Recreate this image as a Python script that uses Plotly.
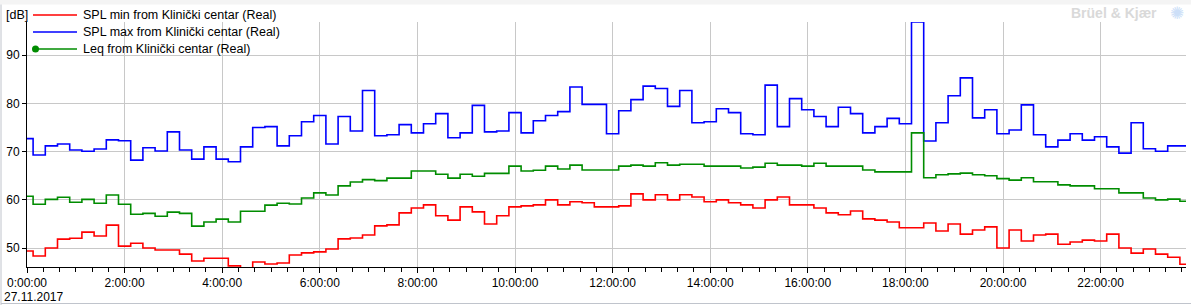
import pandas as pd
import plotly.graph_objects as go

times = pd.date_range("2017-11-27 00:00", periods=96, freq="15min")

spl_max = [
    72.7, 69.3, 71.2, 71.6, 70.35, 70.1, 70.55, 72.45, 72.25, 68.25,
    70.8, 70.15, 74.1, 70.35, 68.45, 71.0, 68.45, 67.9, 71.0, 75.0,
    75.2, 71.2, 73.3, 76.2, 77.5, 71.6, 77.3, 74.3, 82.7, 73.3,
    73.5, 75.6, 73.9, 75.8, 77.9, 72.9, 73.9, 79.6, 74.1, 74.3,
    78.1, 73.9, 76.4, 77.5, 78.3, 83.4, 79.8, 79.8, 73.7, 78.5,
    80.8, 83.6, 83.1, 79.4, 82.7, 76.0, 76.2, 78.9, 78.1, 73.7,
    73.5, 83.8, 75.2, 81.0, 78.7, 77.3, 75.2, 79.2, 77.9, 73.9,
    75.2, 76.9, 75.8, 96.9, 72.2, 76.0, 81.6, 85.3, 77.0, 78.7,
    73.7, 74.5, 79.7, 73.5, 71.0, 72.4, 73.7, 72.4, 73.1, 71.0,
    69.7, 76.0, 70.6, 70.1, 71.2, 71.2,
]

leq = [
    60.76, 59.1, 60.1, 60.55, 59.5, 60.1, 59.3, 61.0, 59.1, 57.0,
    57.2, 56.6, 57.45, 57.2, 54.55, 55.4, 56.0, 55.4, 57.65, 57.65,
    58.9, 59.3, 59.15, 60.4, 61.45, 61.0, 62.9, 63.7, 64.2, 64.0,
    64.5, 64.5, 66.0, 66.0, 65.3, 64.5, 65.3, 64.9, 65.5, 65.5,
    67.0, 66.0, 66.15, 67.0, 66.4, 67.2, 66.2, 66.2, 66.2, 67.0,
    67.2, 67.0, 67.7, 67.2, 67.4, 67.4, 67.0, 67.0, 67.0, 66.6,
    66.8, 67.6, 67.2, 67.2, 67.0, 67.6, 67.0, 67.0, 67.0, 66.2,
    65.8, 65.8, 65.8, 73.9, 64.6, 65.2, 65.4, 65.55, 65.2, 65.0,
    64.4, 64.1, 64.6, 63.75, 63.75, 63.1, 62.9, 62.9, 62.3, 62.3,
    61.45, 61.45, 60.4, 60.0, 60.15, 59.7,
]

spl_min = [
    49.4, 48.35, 50.0, 51.85, 52.05, 53.3, 52.5, 54.75, 50.4, 51.0,
    50.0, 49.6, 49.6, 48.75, 47.3, 47.9, 47.9, 46.3, 45.5, 47.1,
    46.7, 46.9, 48.55, 49.0, 49.2, 49.8, 51.9, 52.1, 52.7, 54.6,
    54.8, 57.3, 58.3, 58.95, 56.7, 55.8, 58.55, 57.5, 55.0, 56.7,
    58.55, 58.75, 58.95, 60.0, 58.95, 59.6, 59.4, 58.55, 58.55, 58.75,
    61.25, 60.0, 61.05, 60.0, 61.05, 60.6, 59.6, 60.0, 59.4, 58.95,
    58.3, 60.0, 60.6, 58.95, 58.95, 58.3, 57.3, 56.9, 57.7, 56.05,
    55.8, 55.4, 54.2, 54.2, 55.2, 53.55, 55.0, 52.9, 53.75, 54.4,
    50.0, 53.75, 51.45, 52.7, 52.9, 50.8, 51.25, 51.65, 51.45, 52.9,
    50.0, 48.95, 49.8, 48.75, 48.1, 46.65,
]

series_names = [
    "SPL min from Klinički centar (Real)",
    "SPL max from Klinički centar (Real)",
    "Leq from Klinički centar (Real)",
]
series_colors = ["#ff0000", "#0000ff", "#008c00"]
series_values = [spl_min, spl_max, leq]

FONT = "Liberation Sans"
W, H = 1191, 305
ML, MR, MT, MB = 27, 5, 22, 38
PW, PH = W - ML - MR, H - MT - MB


def px(x):
    return (x - ML) / PW


def py(y):
    return 1 - (y - MT) / PH


fig = go.Figure()
for name, color, vals in zip(series_names, series_colors, series_values):
    fig.add_trace(go.Scatter(x=times, y=vals, mode="lines", name=name,
                             line=dict(color=color, width=1.6, shape="hvh")))

# manual legend (compact row spacing as in the reference)
legend_rows = [15, 32, 49]
shapes = [
    dict(type="rect", xref="paper", yref="paper", x0=px(-5), x1=px(W + 5),
         y0=py(4.5), y1=py(-5), fillcolor="#f4f4f4", line=dict(width=0), layer="below"),
    dict(type="line", xref="paper", yref="paper", x0=px(1), x1=px(1),
         y0=py(H + 5), y1=py(4.5), line=dict(color="#c0c4cc", width=1)),
    dict(type="line", xref="paper", yref="paper", x0=px(1), x1=px(W + 5),
         y0=py(303.5), y1=py(303.5), line=dict(color="#c0c4cc", width=1)),
]
annotations = []
for name, color, ry in zip(series_names, series_colors, legend_rows):
    shapes.append(dict(type="line", xref="paper", yref="paper", x0=px(33), x1=px(77),
                       y0=py(ry), y1=py(ry), line=dict(color=color, width=1.6)))
    annotations.append(dict(text=name, xref="paper", yref="paper", x=px(81), y=py(ry),
                            xanchor="left", yanchor="middle", showarrow=False,
                            font=dict(size=12.5, family=FONT, color="#000000")))
ry = legend_rows[2]
shapes.append(dict(type="circle", xref="paper", yref="paper", x0=px(32), x1=px(39),
                   y0=py(ry + 3.5), y1=py(ry - 3.5), fillcolor=series_colors[2],
                   line=dict(color=series_colors[2], width=0)))

annotations += [
    dict(text="[dB]", xref="paper", yref="paper", x=px(4), y=py(15),
         xanchor="left", yanchor="middle", showarrow=False,
         font=dict(size=12.5, family=FONT)),
    dict(text="27.11.2017", xref="paper", yref="paper", x=px(2), y=py(297),
         xanchor="left", yanchor="middle", showarrow=False,
         font=dict(size=12, family=FONT)),
    dict(text="<b>Brüel &amp; Kjær</b>", xref="paper", yref="paper", x=px(1159), y=py(13),
         xanchor="right", yanchor="middle", showarrow=False,
         font=dict(size=14, family=FONT, color="#d9d9d9")),
    dict(text="✺", xref="paper", yref="paper", x=px(1186), y=py(13),
         xanchor="right", yanchor="middle", showarrow=False,
         font=dict(size=17, family="DejaVu Sans", color="#cddff8")),
]

fig.update_layout(
    width=W, height=H,
    margin=dict(l=ML, r=MR, t=MT, b=MB),
    paper_bgcolor="white", plot_bgcolor="white",
    font=dict(family=FONT, size=12, color="#000000"),
    showlegend=False,
    xaxis=dict(
        range=["2017-11-27 00:00", "2017-11-27 23:45"],
        tickformat="%-H:%M:%S", dtick=2 * 3600 * 1000,
        tick0="2017-11-27 00:00",
        showline=True, linecolor="black", linewidth=1,
        ticks="outside", ticklen=5, tickcolor="black",
        showgrid=True, gridcolor="#c8c8c8", gridwidth=1,
        zeroline=False,
        tickfont=dict(size=12, family=FONT),
        minor=dict(dtick=20 * 60 * 1000, ticks="outside", ticklen=4,
                   tickcolor="black", showgrid=False),
    ),
    yaxis=dict(
        range=[46.07, 96.9], dtick=10, tick0=50,
        showline=True, linecolor="black", linewidth=1,
        ticks="outside", ticklen=4, tickcolor="black",
        showgrid=True, gridcolor="#c8c8c8", gridwidth=1,
        zeroline=False,
        tickfont=dict(size=12, family=FONT),
    ),
    shapes=shapes,
    annotations=annotations,
)

fig.write_html("out.html")
